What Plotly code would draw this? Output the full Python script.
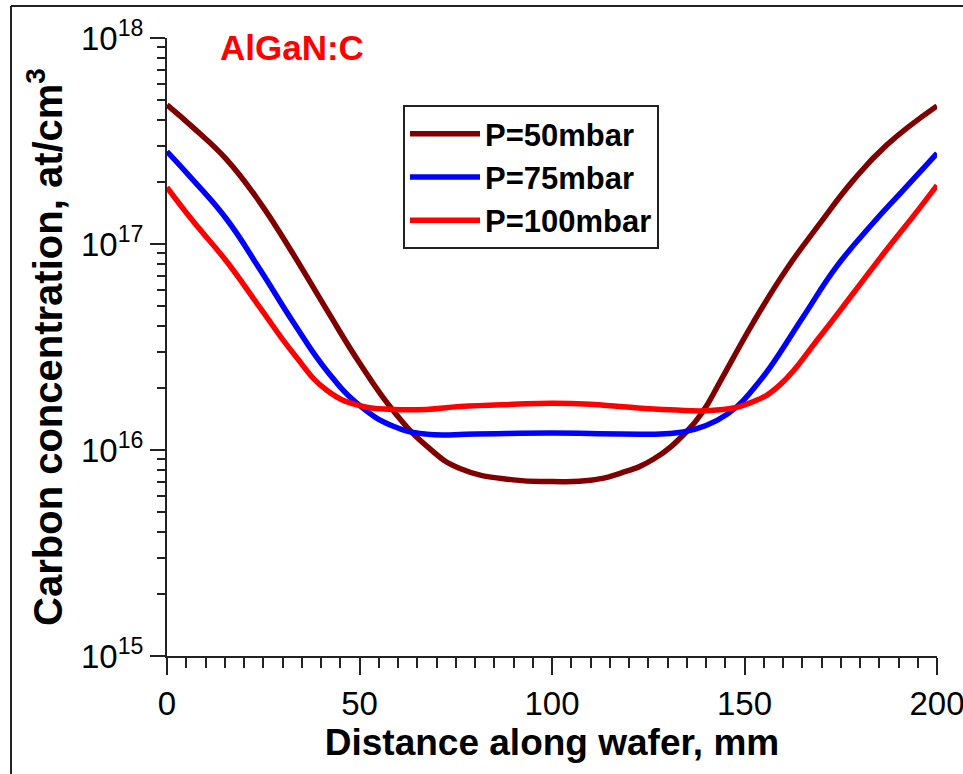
import plotly.graph_objects as go

# Distance along wafer (mm) and log10 of carbon concentration (at/cm^3)
x50 = [0, 6.8, 15.5, 24.2, 32.8, 41.5, 50.1, 58.8, 67.4, 76.1, 90, 100, 110, 117.7, 126.3, 135, 139.3, 143.6, 152.3, 161, 169.6, 178.3, 186.9, 200]
lg50 = [17.675, 17.565, 17.41, 17.20, 16.95, 16.68, 16.42, 16.19, 16.02, 15.91, 15.855, 15.847, 15.853, 15.887, 15.955, 16.09, 16.19, 16.33, 16.62, 16.88, 17.10, 17.31, 17.48, 17.67]

x75 = [0, 6.8, 15.5, 24.2, 32.8, 41.5, 50.1, 58.8, 67.4, 80, 100, 118, 130.6, 137, 143, 148, 152, 156.6, 165.3, 173.9, 182.6, 191.3, 200]
lg75 = [17.449, 17.31, 17.12, 16.875, 16.62, 16.385, 16.215, 16.115, 16.077, 16.078, 16.082, 16.078, 16.08, 16.10, 16.145, 16.21, 16.29, 16.40, 16.648, 16.89, 17.085, 17.263, 17.44]

x100 = [0, 6.8, 15.5, 24.2, 32.8, 41.5, 50.1, 58.8, 67.4, 76.1, 90, 100, 110, 117.7, 130.6, 143.6, 152.3, 159.2, 169.6, 178.3, 186.9, 193.8, 200]
lg100 = [17.275, 17.11, 16.915, 16.69, 16.47, 16.29, 16.215, 16.197, 16.197, 16.211, 16.222, 16.227, 16.222, 16.211, 16.195, 16.195, 16.235, 16.316, 16.551, 16.762, 16.972, 17.134, 17.285]

names = ["P=50mbar", "P=75mbar", "P=100mbar"]
colors = ["#800000", "#0000FF", "#FF0000"]

y_tickvals = [1e15, 1e16, 1e17, 1e18]
y_ticktext = ["10<sup>15</sup>", "10<sup>16</sup>", "10<sup>17</sup>", "10<sup>18</sup>"]
x_tickvals = [0, 50, 100, 150, 200]

y_minor = [m * 10 ** d for d in (15, 16, 17) for m in range(2, 10)]
x_minor = [v for v in range(0, 201, 5) if v % 50 != 0]

BOLD = "Liberation Sans, Arial"
REG = "Liberation Sans, Arial"

fig = go.Figure()
for xs, lg, nm, c in zip([x50, x75, x100], [lg50, lg75, lg100], names, colors):
    fig.add_trace(go.Scatter(
        x=xs, y=[10 ** v for v in lg], mode="lines", name=nm,
        line=dict(color=c, width=5.5, shape="spline", smoothing=1.3),
    ))

W, H = 963, 774
L, R, T, B = 167, 26, 38, 118
pw, ph = W - L - R, H - T - B


def px(xp):
    return (xp - L) / pw


def py(yp):
    return (H - B - yp) / ph


fig.update_layout(
    width=W, height=H,
    margin=dict(l=L, r=R, t=T, b=B, autoexpand=False),
    paper_bgcolor="white", plot_bgcolor="white",
    showlegend=True,
    legend=dict(
        x=px(403), y=py(105), xanchor="left", yanchor="top",
        bgcolor="white", bordercolor="#222", borderwidth=2,
        font=dict(family=BOLD, size=31, color="black", weight="bold"),
        itemwidth=70, tracegroupgap=0,
    ),
    xaxis=dict(
        range=[0, 200], showgrid=False, zeroline=False, automargin=False,
        showline=True, linecolor="#222", linewidth=2,
        ticks="outside", ticklen=17, tickwidth=2, tickcolor="#222",
        tickvals=x_tickvals, ticklabeloverflow="allow",
        tickfont=dict(family=REG, size=33, color="black"),
        minor=dict(tickvals=x_minor, ticks="outside", ticklen=10, tickwidth=2, tickcolor="#222", showgrid=False),
        title=dict(text="Distance along wafer, mm", standoff=8,
                   font=dict(family=BOLD, size=37, color="black", weight="bold")),
    ),
    yaxis=dict(
        type="log", range=[15, 18], showgrid=False, zeroline=False, automargin=False,
        showline=True, linecolor="#222", linewidth=2,
        ticks="outside", ticklen=15, tickwidth=2, tickcolor="#222",
        tickvals=y_tickvals, ticktext=y_ticktext, ticklabeloverflow="allow",
        tickfont=dict(family=REG, size=33, color="black"),
        minor=dict(tickvals=y_minor, ticks="outside", ticklen=8, tickwidth=2, tickcolor="#222", showgrid=False),
        title=dict(text="Carbon concentration, at/cm<sup>3</sup>", standoff=6,
                   font=dict(family=BOLD, size=40, color="black", weight="bold")),
    ),
    annotations=[dict(
        text="AlGaN:C", x=px(292), y=py(47), xref="paper", yref="paper",
        xanchor="center", yanchor="middle", showarrow=False,
        font=dict(family=BOLD, size=35, color="#FF0000", weight="bold"),
    )],
    shapes=[
        dict(type="line", xref="paper", yref="paper", x0=px(11), x1=px(963), y0=py(6), y1=py(6),
             line=dict(color="#222", width=2)),
        dict(type="line", xref="paper", yref="paper", x0=px(11), x1=px(11), y0=py(6), y1=py(774),
             line=dict(color="#222", width=2)),
    ],
)

fig.write_html("out.html")
